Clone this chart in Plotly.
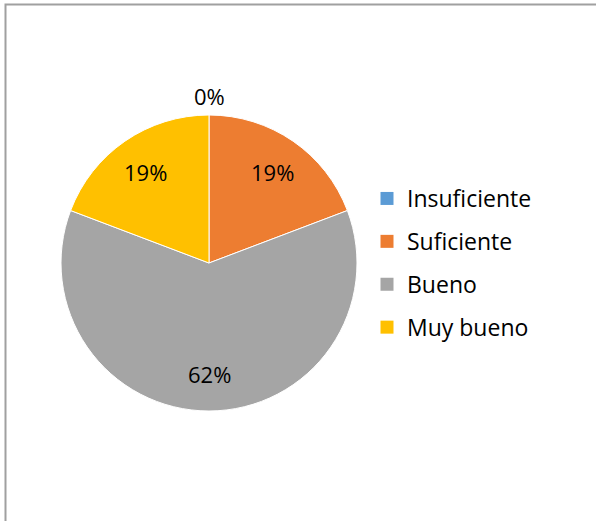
import math
import plotly.graph_objects as go

# categorias y conteos (porcentajes: 0%, 19%, 62%, 19%)
labels = ['Insuficiente', 'Suficiente', 'Bueno', 'Muy bueno']
values = [0, 5, 16, 5]
colors = ['#5B9BD5', '#ED7D31', '#A5A5A5', '#FFC000']

W, H = 596, 521
CX, CY, R = 209, 263, 148  # centro y radio del pastel en pixeles

fig = go.Figure()
fig.add_trace(
    go.Pie(
        labels=labels,
        values=values,
        sort=False,
        direction='clockwise',
        rotation=0,
        marker=dict(colors=colors, line=dict(color='white', width=1)),
        textinfo='none',
        domain=dict(x=[(CX - R) / W, (CX + R) / W], y=[1 - (CY + R) / H, 1 - (CY - R) / H]),
        showlegend=False,
        hoverinfo='label+percent',
    )
)

# leyenda con separacion como en Excel
for lab, col in zip(labels, colors):
    fig.add_trace(go.Scatter(x=[None], y=[None], mode='markers', name=lab,
                             legendgroup=lab,
                             marker=dict(symbol='square', size=13, color=col)))

# etiquetas de porcentaje
total = sum(values)
acc = 0
for v in values:
    frac = v / total
    ang = 2 * math.pi * (acc + frac / 2)
    acc += frac
    r = 0.75 * R if v > 0 else 1.13 * R
    px = CX + r * math.sin(ang)
    py = CY - r * math.cos(ang)
    fig.add_annotation(x=px / W, y=1 - py / H, xref='paper', yref='paper',
                       xanchor='center', yanchor='middle',
                       text=f'{round(100 * frac)}%', showarrow=False,
                       font=dict(size=22, color='#000000'))

# borde del grafico
fig.add_shape(type='rect', xref='paper', yref='paper',
              x0=5.5 / W, x1=1.2, y0=-0.2, y1=1 - 4.5 / H,
              line=dict(color='#A0A0A0', width=2))

fig.update_layout(
    width=W,
    height=H,
    margin=dict(l=0, r=0, t=0, b=0),
    paper_bgcolor='white',
    plot_bgcolor='white',
    font=dict(family='Open Sans, Liberation Sans, sans-serif', color='#000000'),
    xaxis=dict(visible=False),
    yaxis=dict(visible=False),
    legend=dict(x=367 / W, y=1 - 263 / H, xanchor='left', yanchor='middle',
                font=dict(size=23, color='#000000'), itemwidth=30,
                tracegroupgap=10, traceorder='grouped'),
)

fig.write_html('out.html', config={'displayModeBar': False},
               post_script="document.body.style.margin='0';")
